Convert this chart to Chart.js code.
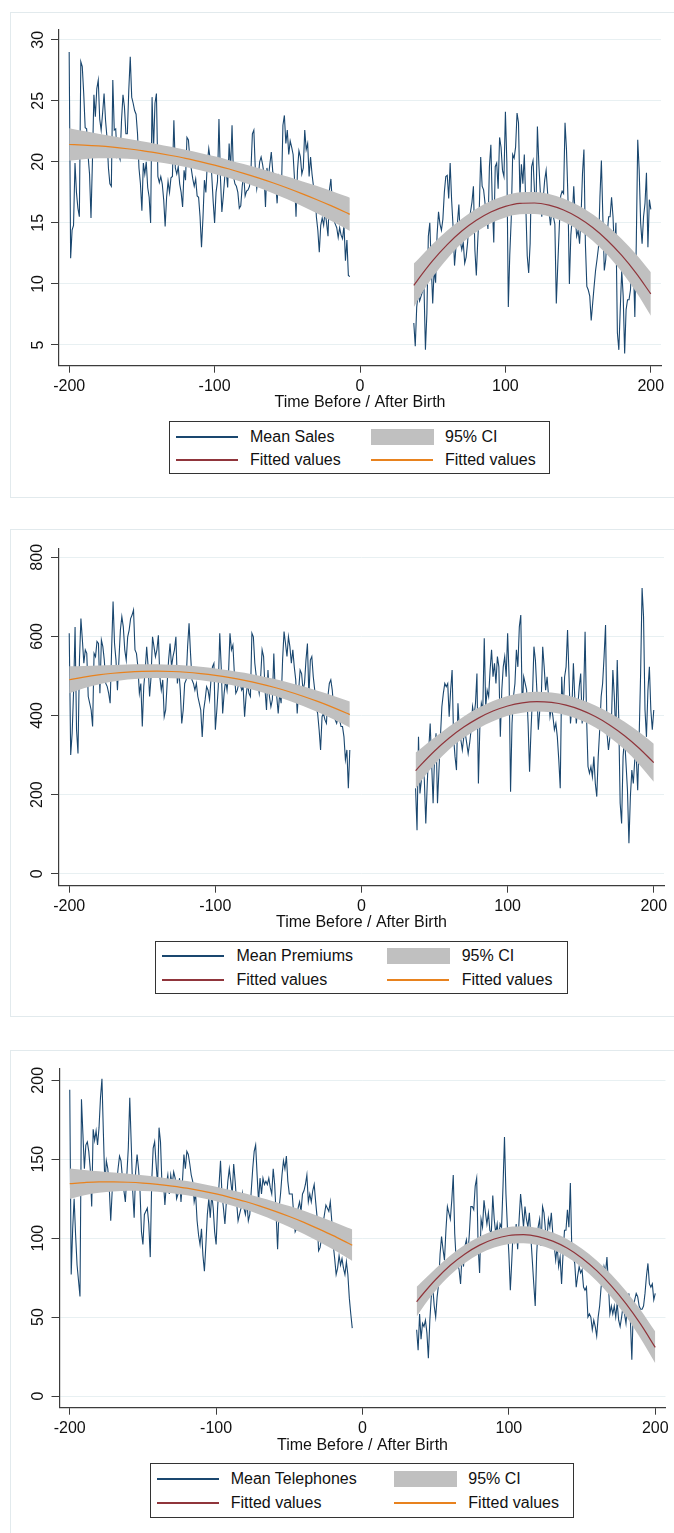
<!DOCTYPE html>
<html>
<head>
<meta charset="utf-8">
<script src="https://cdn.jsdelivr.net/npm/chart.js@4/dist/chart.umd.min.js"></script>
<style>
  body { margin: 0; background: #fff; font-family: 'Liberation Sans', Arial, sans-serif; }
  #page { position: relative; width: 674px; height: 1533px; overflow: hidden; }
  .frame { position: absolute; border: 1px solid #e2eaed; box-sizing: border-box; }
  canvas { position: absolute; left: 0; }
  .lgbox { position: absolute; border: 1.5px solid #333; box-sizing: border-box; }
  .lgline { position: absolute; height: 1.5px; width: 62px; }
  .lgci { position: absolute; width: 63px; height: 16px; background: #c0c0c0; }
  .lgtext { position: absolute; font-size: 16px; line-height: 18px; color: #111; white-space: nowrap; }
</style>
</head>
<body>
<div id="page">
  <div class="frame" style="left:9.5px;top:12px;width:680px;height:486px"></div>
  <div class="frame" style="left:9.5px;top:529px;width:680px;height:488px"></div>
  <div class="frame" style="left:9.5px;top:1050px;width:680px;height:500px"></div>
  <canvas id="c1" width="674" height="420" style="top:0px"></canvas>
  <canvas id="c2" width="674" height="420" style="top:520px"></canvas>
  <canvas id="c3" width="674" height="420" style="top:1040px"></canvas>
</div>
<script>
// tick labels
const xTicks = [-200, -100, 0, 100, 200];
const salesTicks = [5, 10, 15, 20, 25, 30];
const premiumTicks = [0, 200, 400, 600, 800];
const phoneTicks = [0, 50, 100, 150, 200];

// daily means: before birth starts at day -200, after birth starts at day 37
const salesBefore = [
  29.0, 12.1, 14.4, 14.8, 19.9, 17.5, 16.2, 15.5, 28.2, 27.8,
  25.6, 22.8, 22.7, 20.5, 19.0, 15.4, 20.1, 25.5, 23.7, 26.0,
  26.7, 23.5, 22.6, 24.0, 25.6, 23.4, 22.0, 19.5, 18.2, 18.0,
  26.7, 22.6, 22.7, 20.4, 20.6, 20.2, 23.4, 25.5, 24.5, 22.3,
  22.3, 25.9, 28.6, 25.3, 24.8, 24.2, 23.9, 22.3, 19.5, 18.2,
  16.0, 19.9, 19.0, 20.0, 17.9, 17.1, 15.0, 25.3, 21.0, 24.8,
  25.6, 18.8, 18.3, 18.8, 18.2, 16.9, 14.7, 17.1, 18.4, 17.5,
  18.7, 18.8, 23.4, 19.5, 19.0, 19.6, 18.2, 17.5, 16.3, 19.3,
  18.5, 22.0, 21.8, 20.2, 19.4, 18.6, 18.0, 18.6, 17.2, 17.1,
  15.5, 13.0, 15.4, 18.5, 17.5, 19.9, 21.1, 20.2, 19.0, 16.8,
  15.0, 17.5, 18.4, 23.5, 18.8, 15.9, 17.2, 18.8, 19.3, 17.9,
  21.5, 19.4, 23.0, 18.8, 18.2, 18.0, 17.5, 16.2, 16.4, 18.0,
  19.0, 17.2, 17.6, 17.7, 18.0, 19.3, 22.3, 22.6, 19.4, 17.8,
  18.7, 20.0, 20.4, 19.8, 19.0, 16.3, 19.5, 18.7, 19.8, 20.8,
  19.2, 18.8, 18.3, 16.6, 18.8, 18.4, 17.8, 23.0, 23.8, 21.5,
  22.6, 20.6, 21.7, 21.2, 20.6, 18.5, 15.5, 19.3, 20.9, 20.4,
  19.0, 19.5, 22.6, 21.0, 21.5, 18.8, 20.4, 19.0, 18.0, 17.9,
  15.5, 14.4, 12.6, 14.8, 15.4, 14.8, 16.0, 15.0, 13.9, 17.7,
  18.6, 16.5, 15.2, 14.9, 14.6, 13.8, 14.6, 14.0, 13.7, 14.8,
  11.9, 13.6, 10.7, 10.6
];
const salesAfter = [
  6.8, 4.9, 8.1, 9.2, 8.6, 9.0, 9.4, 9.8, 4.6, 7.6,
  13.9, 15.0, 11.5, 8.4, 11.2, 10.1, 14.0, 15.9, 14.9, 14.4,
  15.3, 17.5, 18.8, 18.9, 17.0, 19.9, 16.9, 14.7, 11.5, 13.0,
  15.0, 16.5, 13.5, 12.8, 13.4, 11.7, 12.2, 13.4, 15.2, 15.9,
  16.7, 18.0, 12.8, 10.7, 13.6, 16.0, 20.4, 18.0, 17.7, 16.6,
  15.6, 14.5, 19.6, 21.4, 16.5, 13.4, 19.6, 19.9, 17.8, 22.0,
  21.2, 19.3, 18.8, 24.1, 19.9, 8.1, 12.4, 15.3, 20.6, 20.3,
  21.2, 24.0, 23.2, 17.1, 19.8, 18.2, 20.6, 16.5, 12.3, 10.9,
  13.3, 19.6, 20.1, 17.6, 16.0, 22.9, 19.8, 17.5, 15.5, 17.0,
  18.5, 19.3, 17.5, 15.9, 14.8, 16.2, 15.5, 14.9, 8.4, 11.5,
  14.5, 17.2, 17.6, 17.4, 23.2, 21.0, 17.1, 10.0, 14.0, 15.5,
  18.0, 15.5, 13.9, 14.4, 13.3, 15.5, 19.0, 21.0, 13.3, 9.8,
  9.5, 9.0, 7.0, 8.4, 9.8, 11.1, 12.0, 13.0, 17.1, 20.1,
  15.5, 11.1, 12.0, 14.1, 15.5, 15.5, 17.1, 15.5, 12.5, 15.0,
  6.0, 4.6, 8.0, 11.1, 9.0, 4.3, 7.9, 8.7, 8.7, 9.5,
  12.0, 11.7, 7.3, 13.3, 21.8, 19.3, 15.0, 13.3, 15.5, 16.6,
  19.1, 13.0, 16.9, 16.1
];
const premiumsBefore = [
  608, 300, 355, 464, 624, 364, 304, 540, 645, 591,
  532, 566, 557, 448, 431, 414, 372, 557, 549, 587,
  582, 456, 591, 574, 540, 481, 473, 456, 431, 566,
  688, 582, 540, 464, 540, 616, 650, 624, 566, 540,
  599, 616, 645, 654, 667, 566, 557, 523, 456, 481,
  372, 473, 515, 574, 523, 448, 498, 599, 574, 549,
  566, 603, 498, 464, 490, 397, 414, 481, 540, 582,
  523, 549, 566, 599, 481, 515, 464, 380, 414, 481,
  490, 574, 633, 557, 490, 481, 464, 481, 448, 431,
  414, 346, 414, 440, 473, 464, 440, 490, 523, 532,
  364, 414, 473, 608, 523, 405, 456, 490, 464, 506,
  608, 566, 578, 506, 456, 464, 481, 481, 464, 473,
  397, 448, 481, 456, 448, 608, 599, 532, 498, 481,
  456, 498, 566, 549, 464, 414, 515, 448, 422, 440,
  557, 456, 448, 405, 456, 431, 540, 612, 582, 549,
  599, 574, 532, 566, 523, 490, 405, 464, 515, 506,
  464, 481, 540, 582, 448, 540, 549, 498, 464, 422,
  405, 364, 313, 397, 405, 389, 380, 448, 481, 490,
  464, 414, 389, 380, 397, 389, 372, 372, 346, 288,
  313, 216, 313
];
const premiumsAfter = [
  216, 110, 346, 203, 237, 279, 237, 127, 228, 313,
  380, 279, 178, 296, 355, 178, 262, 346, 422, 456,
  481, 473, 481, 397, 464, 515, 346, 296, 262, 431,
  364, 338, 313, 346, 355, 330, 304, 330, 364, 422,
  397, 431, 506, 228, 372, 431, 414, 595, 422, 464,
  448, 515, 566, 498, 532, 481, 549, 523, 346, 464,
  523, 549, 498, 608, 498, 207, 380, 448, 481, 566,
  523, 624, 654, 414, 498, 481, 464, 380, 258, 364,
  448, 574, 540, 464, 364, 414, 440, 574, 523, 464,
  498, 448, 397, 422, 397, 364, 380, 346, 288, 216,
  498, 414, 498, 523, 616, 498, 380, 422, 532, 440,
  380, 422, 473, 506, 380, 448, 612, 397, 271, 254,
  271, 245, 296, 228, 195, 296, 364, 448, 481, 549,
  629, 355, 313, 346, 380, 515, 448, 346, 540, 397,
  178, 127, 296, 346, 279, 211, 77, 195, 262, 228,
  288, 296, 211, 346, 506, 722, 650, 414, 346, 464,
  523, 414, 364, 414
];
const phonesBefore = [
  194, 77, 106, 125, 102, 83, 73, 63, 188, 166,
  144, 159, 161, 155, 144, 120, 169, 162, 168, 159,
  170, 189, 201, 166, 134, 149, 144, 132, 111, 130,
  136, 136, 134, 144, 152, 149, 138, 130, 123, 140,
  157, 189, 160, 130, 113, 142, 153, 144, 130, 104,
  96, 115, 117, 119, 109, 88, 136, 157, 161, 147,
  134, 170, 161, 134, 136, 121, 134, 140, 128, 140,
  134, 142, 138, 125, 128, 138, 123, 136, 153, 144,
  155, 153, 147, 140, 136, 123, 128, 111, 102, 96,
  106, 89, 79, 96, 115, 125, 113, 128, 119, 104,
  96, 119, 134, 149, 128, 119, 109, 123, 136, 144,
  136, 128, 147, 136, 123, 111, 115, 119, 128, 119,
  115, 123, 111, 115, 130, 144, 155, 159, 140, 123,
  138, 128, 138, 134, 136, 134, 138, 132, 128, 144,
  134, 115, 93, 119, 128, 140, 149, 144, 152, 136,
  128, 128, 128, 115, 104, 106, 119, 123, 117, 128,
  130, 134, 140, 123, 128, 123, 130, 134, 123, 113,
  92, 94, 100, 109, 115, 121, 119, 117, 123, 111,
  96, 87, 77, 81, 89, 83, 87, 81, 77, 85,
  77, 62, 52, 43
];
const phonesAfter = [
  42, 29, 52, 36, 46, 44, 48, 40, 24, 48,
  63, 69, 57, 50, 63, 71, 90, 101, 93, 86,
  105, 120, 116, 112, 124, 140, 103, 86, 84, 80,
  71, 90, 82, 95, 99, 90, 103, 120, 120, 118,
  133, 138, 95, 78, 112, 107, 124, 116, 109, 116,
  105, 103, 127, 112, 103, 109, 99, 109, 107, 133,
  164, 128, 107, 90, 67, 86, 107, 99, 109, 93,
  112, 128, 118, 107, 120, 112, 107, 116, 101, 86,
  71, 57, 90, 107, 112, 95, 120, 116, 105, 99,
  112, 107, 116, 103, 95, 86, 95, 82, 88, 71,
  90, 105, 105, 118, 107, 135, 93, 88, 84, 69,
  76, 82, 78, 80, 69, 67, 69, 50, 52, 50,
  42, 48, 44, 38, 50, 57, 69, 74, 82, 78,
  88, 71, 52, 57, 52, 57, 50, 59, 48, 44,
  50, 57, 52, 46, 57, 65, 48, 23, 55, 61,
  65, 63, 57, 55, 55, 57, 65, 76, 84, 71,
  69, 71, 61, 65
];

// quadratic fits with 95% CI, read every 10 days
const fitDaysBefore = [-200, -190, -180, -170, -160, -150, -140, -130, -120, -110, -100, -90, -80, -70, -60, -50, -40, -30, -20, -10, -7];
const fitDaysBefore2 = [-200, -190, -180, -170, -160, -150, -140, -130, -120, -110, -100, -90, -80, -70, -60, -50, -40, -30, -20, -10, -8];
const fitDaysAfter = [37, 40, 50, 60, 70, 80, 90, 100, 110, 120, 130, 140, 150, 160, 170, 180, 190, 200];

const salesFitBefore = [21.42, 21.37, 21.30, 21.20, 21.07, 20.92, 20.73, 20.52, 20.29, 20.02, 19.73, 19.41, 19.06, 18.69, 18.29, 17.86, 17.40, 16.92, 16.41, 15.87, 15.70];
const salesHiBefore = [22.76, 22.52, 22.30, 22.10, 21.89, 21.69, 21.47, 21.24, 21.00, 20.73, 20.45, 20.14, 19.82, 19.49, 19.15, 18.79, 18.42, 18.04, 17.64, 17.20, 17.06];
const salesLoBefore = [20.08, 20.22, 20.30, 20.30, 20.25, 20.15, 19.99, 19.80, 19.58, 19.31, 19.01, 18.68, 18.30, 17.89, 17.43, 16.93, 16.38, 15.80, 15.18, 14.54, 14.34];
const salesFitAfter = [9.88, 10.38, 11.91, 13.22, 14.33, 15.21, 15.89, 16.35, 16.60, 16.63, 16.45, 16.05, 15.44, 14.62, 13.58, 12.33, 10.86, 9.18];
const salesHiAfter = [11.68, 12.03, 13.26, 14.37, 15.33, 16.16, 16.81, 17.25, 17.50, 17.53, 17.37, 17.00, 16.44, 15.70, 14.78, 13.68, 12.41, 10.96];
const salesLoAfter = [8.08, 8.73, 10.56, 12.07, 13.33, 14.26, 14.97, 15.45, 15.70, 15.73, 15.53, 15.10, 14.44, 13.54, 12.38, 10.98, 9.31, 7.40];

const premFitBefore = [490.4, 497.1, 502.6, 506.8, 509.8, 511.5, 512.0, 511.2, 509.3, 506.0, 501.6, 495.9, 488.9, 480.7, 471.3, 460.7, 448.8, 435.6, 421.2, 405.6, 402.3];
const premHiBefore = [524.4, 525.1, 526.6, 527.8, 528.8, 529.5, 529.5, 528.2, 526.3, 523.0, 519.1, 513.9, 507.9, 500.7, 492.8, 483.7, 473.8, 462.6, 450.7, 437.6, 435.3];
const premLoBefore = [456.4, 469.1, 478.6, 485.8, 490.8, 493.5, 494.5, 494.2, 492.3, 489.0, 484.1, 477.9, 469.9, 460.7, 449.8, 437.7, 423.8, 408.6, 391.7, 373.6, 369.3];
const premFitAfter = [260.5, 272.7, 310.3, 343.0, 370.7, 393.4, 411.2, 424.1, 432.0, 435.0, 433.0, 426.1, 414.2, 397.4, 375.6, 348.9, 317.3, 280.7];
const premHiAfter = [306.5, 314.7, 344.3, 372.0, 397.7, 419.4, 436.7, 449.1, 457.0, 460.0, 458.0, 451.6, 440.7, 425.4, 406.6, 383.9, 358.3, 328.7];
const premLoAfter = [214.5, 230.7, 276.3, 314.0, 343.7, 367.4, 385.7, 399.1, 407.0, 410.0, 408.0, 400.6, 387.7, 369.4, 344.6, 313.9, 276.3, 232.7];

const phoneFitBefore = [134.5, 135.2, 135.6, 135.6, 135.4, 134.9, 134.1, 133.0, 131.7, 130.0, 128.0, 125.7, 123.2, 120.3, 117.1, 113.7, 110.0, 105.9, 101.6, 96.9, 95.5];
const phoneHiBefore = [144.2, 143.2, 142.4, 141.6, 140.8, 139.9, 138.8, 137.5, 136.2, 134.5, 132.6, 130.5, 128.3, 125.8, 123.1, 120.3, 117.3, 113.9, 110.4, 106.6, 105.5];
const phoneLoBefore = [124.8, 127.2, 128.8, 129.6, 130.0, 129.9, 129.4, 128.5, 127.2, 125.5, 123.4, 120.9, 118.1, 114.8, 111.1, 107.1, 102.7, 97.9, 92.8, 87.2, 85.5];
const phoneFitAfter = [59.7, 63.2, 73.8, 82.8, 90.0, 95.6, 99.5, 101.7, 102.2, 101.0, 98.1, 93.6, 87.3, 79.4, 69.8, 58.5, 45.5, 30.8];
const phoneHiAfter = [69.2, 71.9, 80.8, 89.0, 95.8, 101.1, 104.9, 107.1, 107.6, 106.4, 103.6, 99.3, 93.3, 85.9, 77.0, 66.5, 54.5, 40.8];
const phoneLoAfter = [50.2, 54.5, 66.8, 76.6, 84.2, 90.1, 94.1, 96.3, 96.8, 95.6, 92.6, 87.9, 81.3, 72.9, 62.6, 50.5, 36.5, 20.8];

const salesLegend = ['Mean Sales', '95% CI', 'Fitted values', 'Fitted values'];
const premLegend = ['Mean Premiums', '95% CI', 'Fitted values', 'Fitted values'];
const phoneLegend = ['Mean Telephones', '95% CI', 'Fitted values', 'Fitted values'];

const NAVY = '#1a476f', MAROON = '#90353b', ORANGE = '#e8821e', CI_GREY = '#c0c0c0';
const AXIS = '#3c3c3c', GRID = '#e8f0f2', FONT = "'Liberation Sans', Arial, sans-serif";

const panels = [
  { canvas: 'c1', yMin: 3.3, yMax: 30.8, yTicks: salesTicks, yWidth: 59, padTop: 30, padRight: 13, xHeight: 54.3, titlePad: 7.5, yPad: 4,
    before: salesBefore, after: salesAfter, beforeStart: -200, afterStart: 37,
    fitDaysB: fitDaysBefore, fitB: salesFitBefore, hiB: salesHiBefore, loB: salesLoBefore,
    fitA: salesFitAfter, hiA: salesHiAfter, loA: salesLoAfter,
    legend: salesLegend, lg: { box: [169, 421, 381, 53], rows: [437, 460], keyX: [176, 371], textX: [250, 445] } },
  { canvas: 'c2', yMin: -30.3, yMax: 822.7, yTicks: premiumTicks, yWidth: 59, padTop: 28.3, padRight: 10, xHeight: 54.3, titlePad: 7.5, yPad: 0,
    before: premiumsBefore, after: premiumsAfter, beforeStart: -200, afterStart: 37,
    fitDaysB: fitDaysBefore2, fitB: premFitBefore, hiB: premHiBefore, loB: premLoBefore,
    fitA: premFitAfter, hiA: premHiAfter, loA: premLoAfter,
    legend: premLegend, lg: { box: [155, 941, 413, 53], rows: [956, 980], keyX: [162, 387], textX: [236.5, 461.7] } },
  { canvas: 'c3', yMin: -7.4, yMax: 207.6, yTicks: phoneTicks, yWidth: 59.5, padTop: 28.3, padRight: 8.5, xHeight: 52.3, titlePad: 5.2, yPad: 0,
    before: phonesBefore, after: phonesAfter, beforeStart: -200, afterStart: 37,
    fitDaysB: fitDaysBefore, fitB: phoneFitBefore, hiB: phoneHiBefore, loB: phoneLoBefore,
    fitA: phoneFitAfter, hiA: phoneHiAfter, loA: phoneLoAfter,
    legend: phoneLegend, lg: { box: [150, 1463, 424, 54.5], rows: [1479, 1503], keyX: [157, 394], textX: [230.7, 468.3] } }
];

function daily(values, start) { return values.map((v, i) => ({ x: start + i, y: v })); }
function pairs(xs, ys) { return xs.map((x, i) => ({ x: x, y: ys[i] })); }

function bandSets(days, hi, lo, fit, color) {
  const curve = { pointRadius: 0, cubicInterpolationMode: 'monotone' };
  return [
    Object.assign({ data: pairs(days, hi), borderWidth: 0, borderColor: 'rgba(0,0,0,0)', fill: false, order: 2 }, curve),
    Object.assign({ data: pairs(days, lo), borderWidth: 0, borderColor: 'rgba(0,0,0,0)', backgroundColor: CI_GREY, fill: '-1', order: 2 }, curve),
    Object.assign({ data: pairs(days, fit), borderWidth: 1.2, borderColor: color, fill: false, order: 1 }, curve)
  ];
}

panels.forEach(p => {
  const datasets = [
    { data: daily(p.before, p.beforeStart), borderColor: NAVY, borderWidth: 1.1, pointRadius: 0, order: 3 },
    { data: daily(p.after, p.afterStart), borderColor: NAVY, borderWidth: 1.1, pointRadius: 0, order: 3 }
  ].concat(bandSets(p.fitDaysB, p.hiB, p.loB, p.fitB, ORANGE))
   .concat(bandSets(fitDaysAfter, p.hiA, p.loA, p.fitA, MAROON));

  new Chart(document.getElementById(p.canvas), {
    type: 'line',
    data: { datasets: datasets },
    options: {
      responsive: false,
      animation: false,
      events: [],
      layout: { padding: { left: 0, right: p.padRight, top: p.padTop, bottom: 0 } },
      plugins: { legend: { display: false }, tooltip: { enabled: false } },
      scales: {
        x: {
          type: 'linear', min: -207, max: 207,
          afterBuildTicks: s => { s.ticks = xTicks.map(v => ({ value: v })); },
          afterFit: s => { s.height = p.xHeight; },
          ticks: { autoSkip: false, maxRotation: 0, padding: 4.2, color: '#111', font: { family: FONT, size: 16 },
                   callback: v => String(v) },
          grid: { drawOnChartArea: false, tickColor: AXIS, tickLength: 7 },
          border: { color: AXIS, width: 1.2 },
          title: { display: true, text: 'Time Before / After Birth', color: '#111',
                   font: { family: FONT, size: 16 }, padding: { top: 0, bottom: p.titlePad } }
        },
        y: {
          type: 'linear', position: 'left', min: p.yMin, max: p.yMax,
          afterBuildTicks: s => { s.ticks = p.yTicks.map(v => ({ value: v })); },
          afterFit: s => { s.width = p.yWidth; },
          ticks: { autoSkip: false, minRotation: 90, maxRotation: 90, crossAlign: 'center', padding: p.yPad,
                   color: '#111', font: { family: FONT, size: 16 }, callback: v => String(v) },
          grid: { color: GRID, lineWidth: 1, tickColor: AXIS, tickLength: 8 },
          border: { color: AXIS, width: 1.2 }
        }
      }
    }
  });

  // legend as html
  const page = document.getElementById('page');
  const lg = p.lg;
  const box = document.createElement('div');
  box.className = 'lgbox';
  box.style.cssText = `left:${lg.box[0]}px;top:${lg.box[1]}px;width:${lg.box[2]}px;height:${lg.box[3]}px`;
  page.appendChild(box);
  const keys = [
    { kind: 'line', color: NAVY, col: 0, row: 0 },
    { kind: 'ci', col: 1, row: 0 },
    { kind: 'line', color: MAROON, col: 0, row: 1 },
    { kind: 'line', color: ORANGE, col: 1, row: 1 }
  ];
  keys.forEach((k, i) => {
    const cy = lg.rows[k.row];
    const key = document.createElement('div');
    if (k.kind === 'line') {
      key.className = 'lgline';
      key.style.cssText = `left:${lg.keyX[k.col]}px;top:${cy - 1}px;background:${k.color}`;
    } else {
      key.className = 'lgci';
      key.style.cssText = `left:${lg.keyX[k.col]}px;top:${cy - 8}px`;
    }
    page.appendChild(key);
    const t = document.createElement('div');
    t.className = 'lgtext';
    t.textContent = p.legend[i];
    t.style.cssText = `left:${lg.textX[k.col]}px;top:${cy - 9}px`;
    page.appendChild(t);
  });
});
</script>
</body>
</html>
